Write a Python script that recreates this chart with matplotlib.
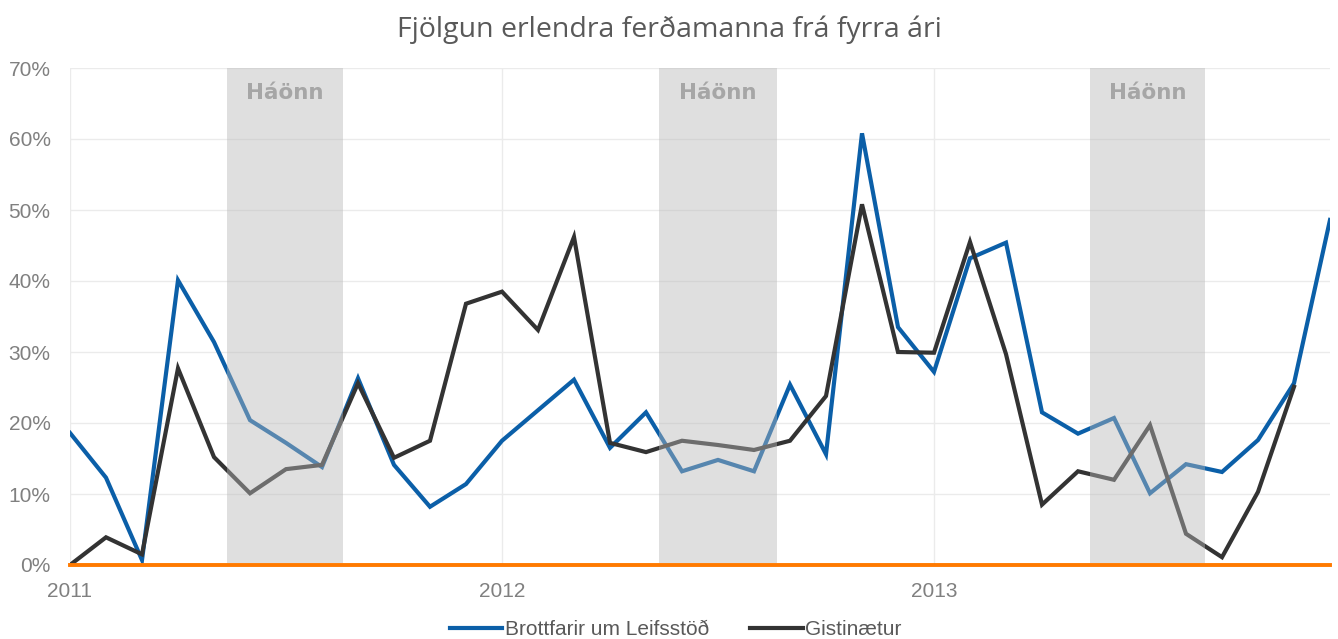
import numpy as np
import matplotlib.pyplot as plt

# monthly growth from previous year (%), Jan 2011 - Dec 2013
brottfarir = [18.6, 12.3, 0.7, 40.1, 31.4, 20.4, 17.2, 13.8, 26.3, 14.1, 8.2, 11.4,
              17.5, 21.8, 26.1, 16.5, 21.5, 13.2, 14.8, 13.2, 25.4, 15.6, 60.8, 33.5,
              27.2, 43.2, 45.4, 21.5, 18.5, 20.7, 10.1, 14.2, 13.1, 17.6, 25.6, 48.6]
gistinaetur = [0.0, 3.9, 1.5, 27.7, 15.2, 10.1, 13.5, 14.1, 25.6, 15.1, 17.5, 36.8,
               38.5, 33.1, 46.2, 17.2, 15.9, 17.5, 16.9, 16.2, 17.5, 23.8, 50.8, 30.0,
               29.9, 45.5, 29.7, 8.5, 13.2, 12.0, 19.7, 4.4, 1.1, 10.3, 25.1]
year_labels = ['2011', '2012', '2013']
haonn_spans = [(4.35, 7.57), (16.35, 19.63), (28.33, 31.53)]

fig = plt.figure(figsize=(13.38, 6.39), dpi=100)
ax = fig.add_axes([70 / 1338, 1 - 565 / 639, 1260 / 1338, 497 / 639])

x_b = np.arange(len(brottfarir))
x_g = np.arange(len(gistinaetur))
ax.plot(x_b, brottfarir, color='#0B5FA8', lw=3, zorder=3, solid_joinstyle='miter',
        label='Brottfarir um Leifsstöð')
ax.plot(x_g, gistinaetur, color='#333333', lw=3, zorder=3, solid_joinstyle='miter',
        label='Gistinætur')
ax.axhline(0, color='#FF7A00', lw=2.8, zorder=5, clip_on=False)

for x0, x1 in haonn_spans:
    ax.axvspan(x0, x1, ymin=0.005, ymax=1, color='#B8B8B8', alpha=0.44, lw=0, zorder=4)
    ax.text((x0 + x1) / 2, 66.5, 'Háönn', ha='center', va='center', fontsize=15.5,
            fontweight='bold', color='#A6A6A6', family='DejaVu Sans', zorder=6)

ax.set_xlim(0, 35)
ax.set_ylim(0, 70)
ax.set_yticks(range(0, 71, 10))
ax.set_yticklabels([f'{v}%' for v in range(0, 71, 10)])
ax.set_xticks([0, 12, 24])
ax.set_xticklabels(year_labels)
ax.grid(True, color='#EBEBEB', lw=1, zorder=0)
ax.set_axisbelow(True)
for s in ax.spines.values():
    s.set_visible(False)
ax.tick_params(length=0, labelsize=15, labelcolor='#808080')
ax.tick_params(axis='y', pad=14)
ax.tick_params(axis='x', pad=12)
for lbl in ax.get_xticklabels() + ax.get_yticklabels():
    lbl.set_family('Liberation Sans')

fig.suptitle('Fjölgun erlendra ferðamanna frá fyrra ári', y=0.975, fontsize=20.5,
             color='#595959', family='Open Sans')

fig.legend(loc='lower center', bbox_to_anchor=(0.505, -0.03), ncol=2, frameon=False,
           prop={'family': 'Liberation Sans', 'size': 15}, labelcolor='#595959',
           handlelength=2.5, handletextpad=0.1, columnspacing=2.0)

fig.savefig('out.png', dpi=100)
